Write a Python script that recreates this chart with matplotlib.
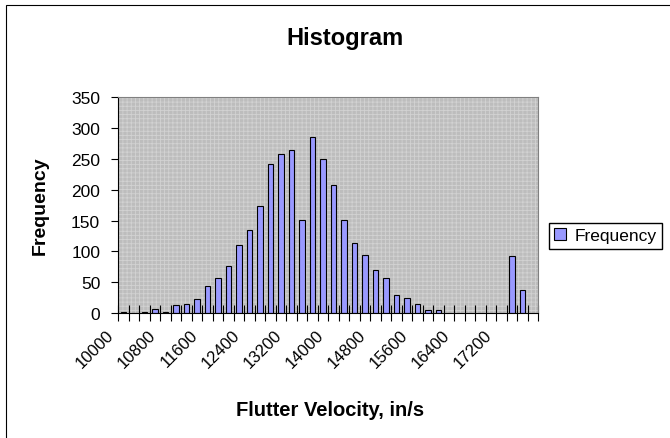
import matplotlib.pyplot as plt
import matplotlib.transforms as mtransforms
from matplotlib.patches import Rectangle

# Data (bin lower edges, 200 in/s bins)
bins = [str(10000 + 200 * i) for i in range(40)]
frequency = [2, 0, 2, 6, 2, 13, 15, 22, 44, 57,
             76, 111, 134, 173, 241, 258, 265, 151, 285, 250,
             208, 151, 113, 94, 69, 57, 30, 24, 15, 5,
             5, 0, 0, 0, 0, 0, 0, 93, 38, 0]
y_ticks = [0, 50, 100, 150, 200, 250, 300, 350]

# Settings
plt.rcParams['font.family'] = ['Liberation Sans', 'DejaVu Sans']
plt.rcParams['hatch.linewidth'] = 0.6
output_image = "out.png"

fig = plt.figure(figsize=(6.7, 4.39), dpi=100)
fig.patch.set_facecolor('white')

# outer chart border (runs off the right/bottom edge in the original crop)
fig.patches.append(Rectangle((6 / 670, -0.1), 1.2, 1 - 6 / 439 + 0.1,
                             transform=fig.transFigure, fill=False,
                             edgecolor='black', linewidth=0.8))

ax = fig.add_axes([118.3 / 670, 1 - 314 / 439, 420 / 670, 215.7 / 439])
ax.set_facecolor('#bdbdbd')
# Excel style fine pattern fill in the plot area
ax.add_patch(Rectangle((0, 0), 1, 1, transform=ax.transAxes, facecolor='none',
                       hatch='++++', edgecolor='#d2d2d2', linewidth=0, zorder=0))

x = list(range(len(bins)))
ax.bar(x, frequency, width=0.5, color='#9999ff', edgecolor='black',
       linewidth=0.8, label='Frequency', zorder=2)

ax.set_xlim(-0.5, len(bins) - 0.5)
ax.set_ylim(0, 350)
ax.set_yticks(y_ticks)
ax.tick_params(axis='y', direction='out', length=5, width=0.8, pad=8,
               labelsize=12.5)

# tick marks between categories, labels every 4th bin
ax.set_xticks([i - 0.5 for i in range(len(bins) + 1)], minor=True)
ax.tick_params(axis='x', which='minor', direction='inout', length=12, width=0.8)
ax.set_xticks(x[::4])
ax.set_xticklabels(bins[::4], rotation=45, ha='right', va='center',
                   rotation_mode='anchor', fontsize=12)
ax.tick_params(axis='x', which='major', length=0, pad=14)
shift = mtransforms.ScaledTranslation(-12 / 100, 0, fig.dpi_scale_trans)
for lbl in ax.get_xticklabels():
    lbl.set_transform(lbl.get_transform() + shift)

for side in ['top', 'right']:
    ax.spines[side].set_color('#808080')
    ax.spines[side].set_linewidth(0.8)
for side in ['left', 'bottom']:
    ax.spines[side].set_color('black')
    ax.spines[side].set_linewidth(0.8)

ax.set_ylabel('Frequency', fontsize=14, fontweight='bold')
ax.yaxis.set_label_coords(-0.165, 0.5)
ax.set_xlabel('Flutter Velocity, in/s', fontsize=14.5, fontweight='bold')
ax.xaxis.set_label_coords(0.505, -0.405)

fig.text(345 / 670, 1 - 45 / 439, 'Histogram', ha='center', va='baseline',
         fontsize=17, fontweight='bold')

fig.legend(loc='upper left', bbox_to_anchor=(549 / 670, 1 - 224 / 439),
           borderaxespad=0, borderpad=0.3, handlelength=0.7, handleheight=0.7,
           handletextpad=0.5, fancybox=False, edgecolor='black',
           framealpha=1, fontsize=12.5)

plt.savefig(output_image, dpi=100)
